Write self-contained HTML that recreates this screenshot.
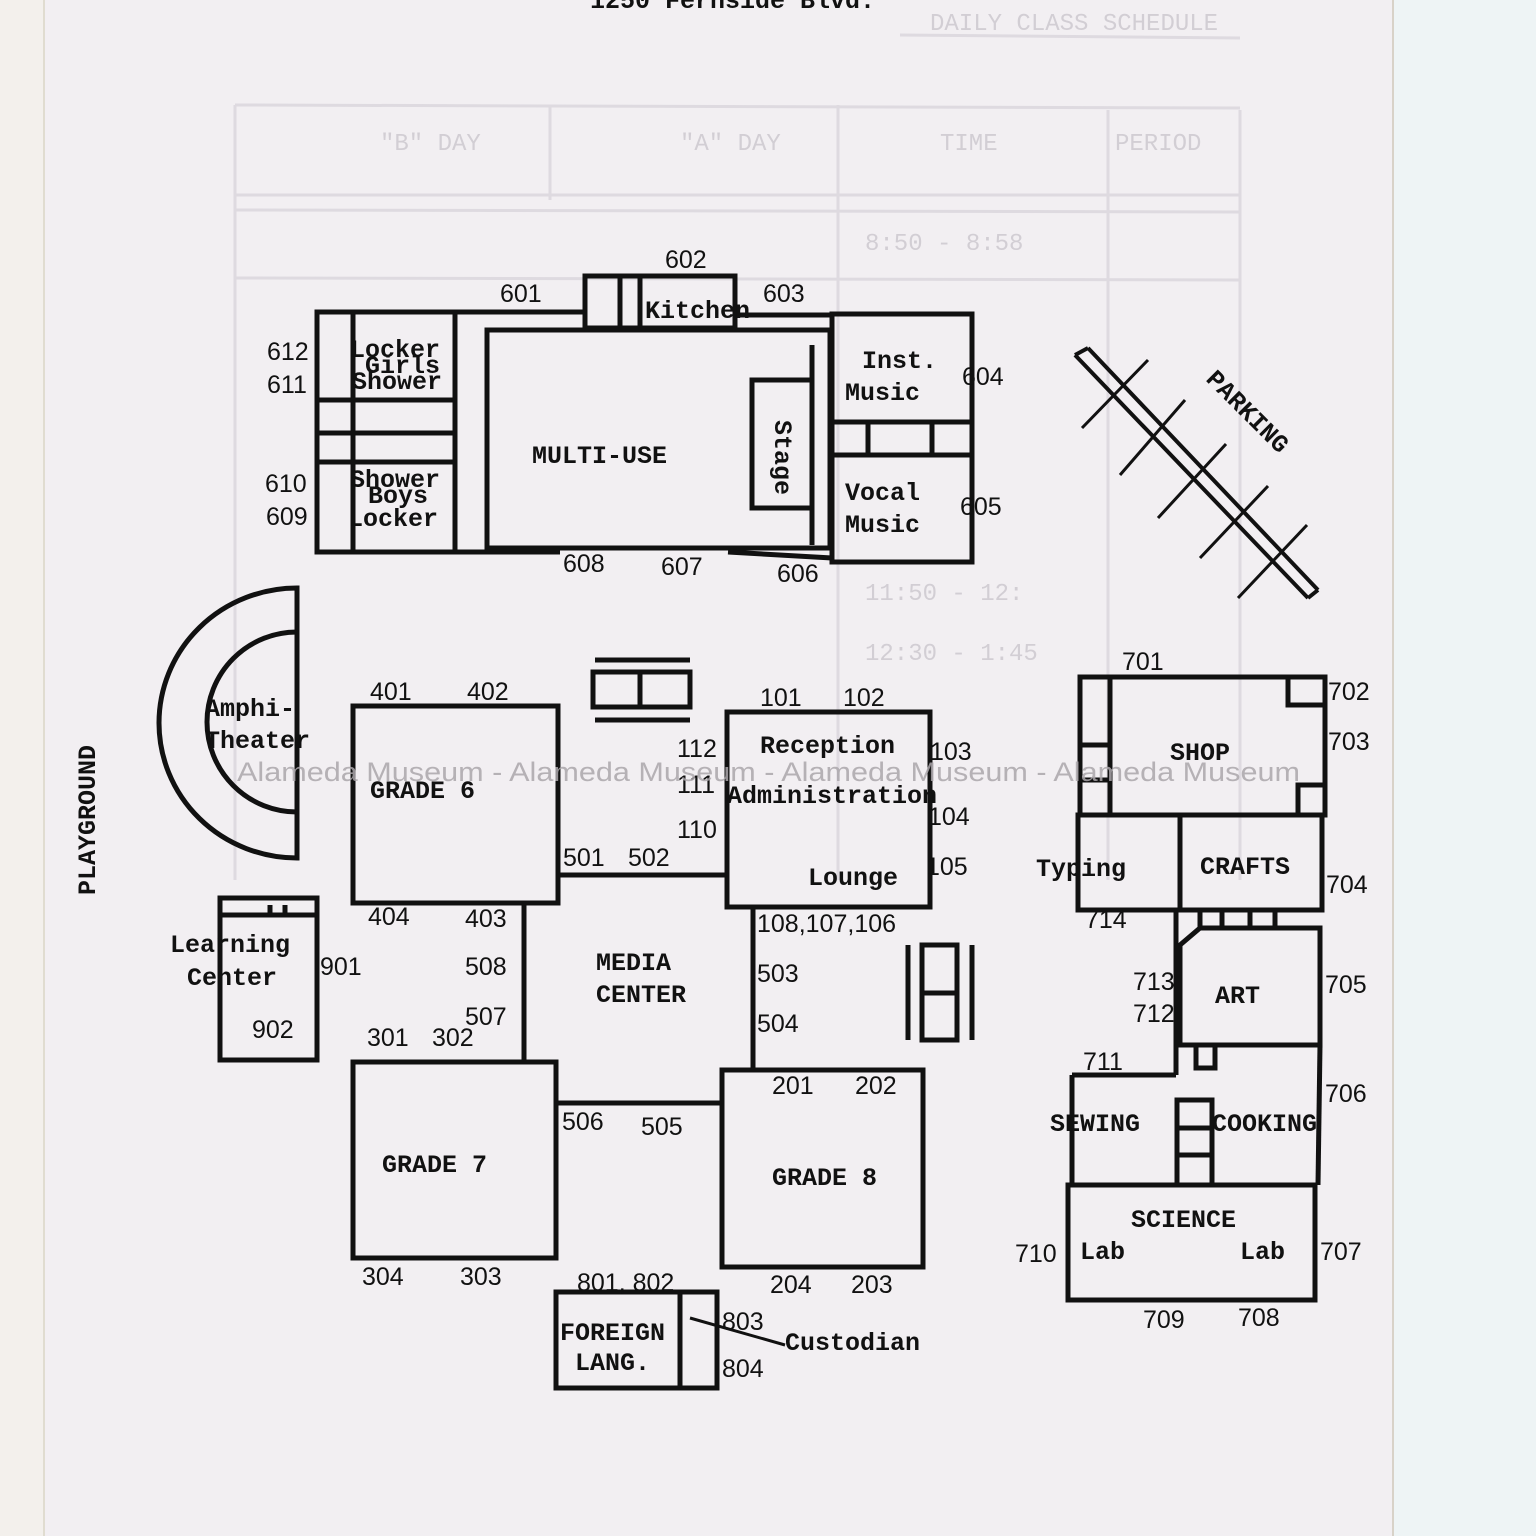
<!DOCTYPE html>
<html><head><meta charset="utf-8"><style>
html,body{margin:0;padding:0;background:#f2eff2;}
svg{display:block}
.t{font-family:"Liberation Mono",monospace;font-weight:bold;font-size:25px;fill:#111;}
.n{font-family:"Liberation Sans",sans-serif;font-size:25px;fill:#111;}
</style></head><body>
<svg width="1536" height="1536" viewBox="0 0 1536 1536" xmlns="http://www.w3.org/2000/svg">
<rect width="1536" height="1536" fill="#f2eff2"/>
<rect x="0" y="0" width="44" height="1536" fill="#f3f0ec"/>
<line x1="44" y1="0" x2="44" y2="1536" stroke="#e0dcd0" stroke-width="2"/>
<rect x="1393" y="0" width="143" height="1536" fill="#eef4f5"/>
<line x1="1393" y1="0" x2="1393" y2="1536" stroke="#d8d2c8" stroke-width="2"/>
<g stroke="#dedae0" stroke-width="3" fill="none">
<line x1="235" y1="105" x2="1240" y2="108"/>
<line x1="235" y1="195" x2="1240" y2="195"/>
<line x1="235" y1="210" x2="1240" y2="212"/>
<line x1="235" y1="278" x2="1240" y2="280"/>
<line x1="235" y1="105" x2="235" y2="880"/>
<line x1="550" y1="105" x2="550" y2="200"/>
<line x1="838" y1="105" x2="838" y2="880"/>
<line x1="1108" y1="110" x2="1108" y2="880"/>
<line x1="1240" y1="110" x2="1240" y2="880"/>
<line x1="900" y1="35" x2="1240" y2="38"/>
</g>
<text x="590" y="8" class="t" font-size="24">1250 Fernside Blvd.</text>
<g fill="#d2ced4" font-family="Liberation Mono,monospace" font-size="24">
<text x="930" y="30">DAILY CLASS SCHEDULE</text>
<text x="1115" y="150">PERIOD</text><text x="940" y="150">TIME</text><text x="680" y="150">"A" DAY</text><text x="380" y="150">"B" DAY</text>
<text x="865" y="250">8:50 - 8:58</text><text x="865" y="600">11:50 - 12:</text><text x="865" y="660">12:30 - 1:45</text>
</g>
<g stroke="#111" stroke-width="5" fill="none">
<rect x="317" y="312" width="138" height="240"/>
<line x1="353" y1="312" x2="353" y2="552"/>
<line x1="317" y1="400" x2="455" y2="400"/>
<line x1="317" y1="433" x2="455" y2="433"/>
<line x1="317" y1="462" x2="455" y2="462"/>
<line x1="455" y1="312" x2="585" y2="312"/>
<line x1="455" y1="552" x2="560" y2="552"/>
<rect x="487" y="330" width="343" height="218"/>
<rect x="752" y="380" width="60" height="128"/>
<line x1="812" y1="345" x2="812" y2="545"/>
<rect x="585" y="276" width="150" height="52"/>
<line x1="620" y1="276" x2="620" y2="328"/>
<line x1="640" y1="276" x2="640" y2="328"/>
<line x1="735" y1="315" x2="832" y2="315"/>
<rect x="832" y="314" width="140" height="248"/>
<line x1="832" y1="422" x2="972" y2="422"/>
<line x1="832" y1="455" x2="972" y2="455"/>
<line x1="868" y1="422" x2="868" y2="455"/>
<line x1="932" y1="422" x2="932" y2="455"/>
<line x1="728" y1="552" x2="832" y2="558"/>
<path d="M297 588 A138 135 0 0 0 297 858 Z"/>
<path d="M297 632 A90 90 0 0 0 297 812"/>
<rect x="353" y="706" width="205" height="197"/>
<line x1="558" y1="875" x2="727" y2="875"/>
<rect x="593" y="672" width="97" height="35"/>
<line x1="640" y1="672" x2="640" y2="707"/>
<line x1="595" y1="660" x2="690" y2="660"/>
<line x1="595" y1="720" x2="690" y2="720"/>
<rect x="727" y="712" width="203" height="195"/>
<line x1="524" y1="903" x2="524" y2="1062"/>
<line x1="753" y1="907" x2="753" y2="1068"/>
<line x1="908" y1="945" x2="908" y2="1040"/>
<line x1="972" y1="945" x2="972" y2="1040"/>
<rect x="922" y="945" width="35" height="95"/>
<line x1="922" y1="993" x2="957" y2="993"/>
<rect x="220" y="898" width="97" height="162"/>
<line x1="220" y1="915" x2="317" y2="915"/>
<line x1="270" y1="905" x2="270" y2="915"/>
<line x1="285" y1="905" x2="285" y2="915"/>
<rect x="353" y="1062" width="203" height="196"/>
<line x1="556" y1="1103" x2="722" y2="1103"/>
<rect x="722" y="1070" width="201" height="197"/>
<rect x="556" y="1292" width="161" height="96"/>
<line x1="680" y1="1292" x2="680" y2="1388"/>
<line x1="690" y1="1318" x2="785" y2="1345" stroke-width="3"/>
<rect x="1080" y="677" width="245" height="138"/>
<line x1="1110" y1="677" x2="1110" y2="815"/>
<line x1="1080" y1="745" x2="1110" y2="745"/>
<line x1="1080" y1="780" x2="1110" y2="780"/>
<rect x="1288" y="677" width="37" height="28"/>
<rect x="1298" y="785" width="27" height="30"/>
<rect x="1078" y="815" width="244" height="95"/>
<line x1="1180" y1="815" x2="1180" y2="910"/>
<line x1="1180" y1="910" x2="1320" y2="910"/>
<path d="M1180 945 L1200 928 L1320 928 L1320 1045 L1180 1045 Z"/>
<line x1="1200" y1="910" x2="1200" y2="928"/><line x1="1222" y1="910" x2="1222" y2="928"/><line x1="1250" y1="910" x2="1250" y2="928"/><line x1="1275" y1="910" x2="1275" y2="928"/>
<rect x="1196" y="1045" width="19" height="23"/>
<line x1="1176" y1="910" x2="1176" y2="1075"/>
<line x1="1320" y1="1045" x2="1318" y2="1185"/>
<line x1="1072" y1="1075" x2="1176" y2="1075"/>
<line x1="1072" y1="1075" x2="1072" y2="1185"/>
<rect x="1177" y="1100" width="35" height="85"/>
<line x1="1177" y1="1128" x2="1212" y2="1128"/>
<line x1="1177" y1="1155" x2="1212" y2="1155"/>
<rect x="1068" y="1185" width="247" height="115"/>
<line x1="1075" y1="355" x2="1308" y2="598" stroke-width="4"/>
<line x1="1088" y1="348" x2="1318" y2="590" stroke-width="4"/>
<line x1="1075" y1="355" x2="1088" y2="348" stroke-width="4"/>
<line x1="1308" y1="598" x2="1318" y2="590" stroke-width="4"/>
<g stroke-width="3">
<line x1="1148" y1="360" x2="1082" y2="428"/>
<line x1="1185" y1="400" x2="1120" y2="475"/>
<line x1="1226" y1="444" x2="1158" y2="518"/>
<line x1="1268" y1="486" x2="1200" y2="558"/>
<line x1="1307" y1="525" x2="1238" y2="598"/>
</g>
</g>
<text class="t" font-size="22" transform="translate(1205,380) rotate(45)">PARKING</text>
<text x="350" y="357" class="t">Locker</text>
<text x="365" y="373" class="t" font-size="20">Girls</text>
<text x="352" y="389" class="t">Shower</text>
<text x="350" y="487" class="t">Shower</text>
<text x="368" y="503" class="t" font-size="20">Boys</text>
<text x="348" y="526" class="t">Locker</text>
<text x="267" y="360" class="n">612</text><text x="267" y="393" class="n">611</text>
<text x="265" y="492" class="n">610</text><text x="266" y="525" class="n">609</text>
<text x="532" y="463" class="t">MULTI-USE</text>
<text class="t" transform="translate(775,420) rotate(90)">Stage</text>
<text x="645" y="318" class="t">Kitchen</text>
<text x="665" y="268" class="n">602</text><text x="500" y="302" class="n">601</text><text x="763" y="302" class="n">603</text>
<text x="862" y="368" class="t">Inst.</text><text x="845" y="400" class="t">Music</text>
<text x="845" y="500" class="t">Vocal</text><text x="845" y="532" class="t">Music</text>
<text x="962" y="385" class="n">604</text><text x="960" y="515" class="n">605</text>
<text x="563" y="572" class="n">608</text><text x="661" y="575" class="n">607</text><text x="777" y="582" class="n">606</text>
<text x="205" y="716" class="t">Amphi-</text><text x="205" y="748" class="t">Theater</text>
<text class="t" font-size="22" transform="translate(95,895) rotate(-90)">PLAYGROUND</text>
<text x="370" y="798" class="t">GRADE 6</text>
<text x="370" y="700" class="n">401</text><text x="467" y="700" class="n">402</text>
<text x="368" y="925" class="n">404</text><text x="465" y="927" class="n">403</text>
<text x="563" y="866" class="n">501</text><text x="628" y="866" class="n">502</text>
<text x="760" y="753" class="t">Reception</text>
<text x="727" y="803" class="t">Administration</text>
<text x="808" y="885" class="t">Lounge</text>
<text x="760" y="706" class="n">101</text><text x="843" y="706" class="n">102</text>
<text x="677" y="757" class="n">112</text><text x="677" y="793" class="n">111</text><text x="677" y="838" class="n">110</text>
<text x="930" y="760" class="n">103</text><text x="928" y="825" class="n">104</text><text x="926" y="875" class="n">105</text>
<text x="757" y="932" class="n">108,107,106</text>
<text x="596" y="970" class="t">MEDIA</text><text x="596" y="1002" class="t">CENTER</text>
<text x="465" y="975" class="n">508</text><text x="465" y="1025" class="n">507</text>
<text x="757" y="982" class="n">503</text><text x="757" y="1032" class="n">504</text>
<text x="170" y="952" class="t">Learning</text><text x="187" y="985" class="t">Center</text>
<text x="320" y="975" class="n">901</text><text x="252" y="1038" class="n">902</text>
<text x="367" y="1046" class="n">301</text><text x="432" y="1046" class="n">302</text>
<text x="382" y="1172" class="t">GRADE 7</text>
<text x="362" y="1285" class="n">304</text><text x="460" y="1285" class="n">303</text>
<text x="562" y="1130" class="n">506</text><text x="641" y="1135" class="n">505</text>
<text x="772" y="1185" class="t">GRADE 8</text>
<text x="772" y="1094" class="n">201</text><text x="855" y="1094" class="n">202</text>
<text x="770" y="1293" class="n">204</text><text x="851" y="1293" class="n">203</text>
<text x="560" y="1340" class="t" font-size="23">FOREIGN</text><text x="575" y="1370" class="t" font-size="23">LANG.</text>
<text x="577" y="1291" class="n">801, 802</text>
<text x="722" y="1330" class="n">803</text><text x="722" y="1377" class="n">804</text>
<text x="785" y="1350" class="t">Custodian</text>
<text x="1170" y="760" class="t">SHOP</text>
<text x="1122" y="670" class="n">701</text><text x="1328" y="700" class="n">702</text><text x="1328" y="750" class="n">703</text>
<text x="1036" y="876" class="t">Typing</text><text x="1200" y="874" class="t">CRAFTS</text>
<text x="1085" y="928" class="n">714</text><text x="1326" y="893" class="n">704</text>
<text x="1215" y="1003" class="t">ART</text>
<text x="1133" y="990" class="n">713</text><text x="1133" y="1022" class="n">712</text><text x="1325" y="993" class="n">705</text>
<text x="1050" y="1131" class="t">SEWING</text><text x="1212" y="1131" class="t">COOKING</text>
<text x="1083" y="1070" class="n">711</text><text x="1325" y="1102" class="n">706</text>
<text x="1131" y="1227" class="t">SCIENCE</text>
<text x="1080" y="1259" class="t">Lab</text><text x="1240" y="1259" class="t">Lab</text>
<text x="1015" y="1262" class="n">710</text><text x="1320" y="1260" class="n">707</text>
<text x="1143" y="1328" class="n">709</text><text x="1238" y="1326" class="n">708</text>
<text x="237" y="781" font-family="Liberation Sans,sans-serif" font-size="27" fill="#aaa6aa" fill-opacity="0.85" textLength="1063" lengthAdjust="spacingAndGlyphs">Alameda Museum - Alameda Museum - Alameda Museum - Alameda Museum</text>
</svg>
</body></html>
